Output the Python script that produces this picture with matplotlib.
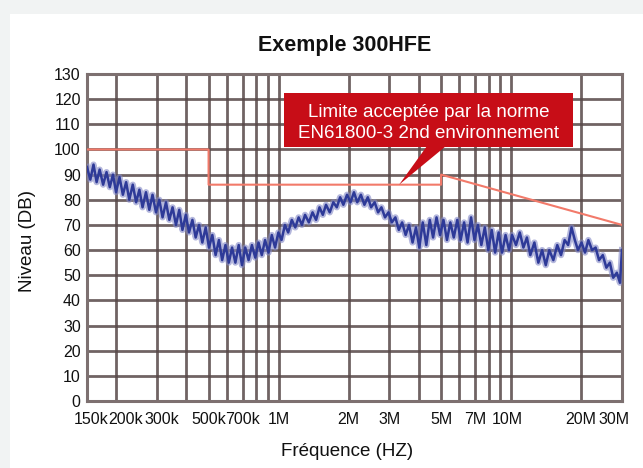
import matplotlib
matplotlib.use('Agg')
import matplotlib.pyplot as plt
import numpy as np
from matplotlib.patches import Rectangle, Polygon
from matplotlib.ticker import FixedLocator, LogLocator, NullFormatter

plt.rcParams['font.family'] = ['Liberation Sans', 'DejaVu Sans']

# ---------------- data ----------------
title = "Exemple 300HFE"
xlabel = "Fréquence (HZ)"
ylabel = "Niveau (DB)"
callout_text = "Limite acceptée par la norme\nEN61800-3 2nd environnement"

tick_freqs_hz = [150e3, 200e3, 300e3, 500e3, 700e3, 1e6, 2e6, 3e6, 5e6, 7e6, 10e6, 20e6, 30e6]
tick_labels = ["150k", "200k", "300k", "500k", "700k", "1M", "2M", "3M", "5M", "7M", "10M", "20M", "30M"]
y_ticks = [0, 10, 20, 30, 40, 50, 60, 70, 80, 90, 100, 110, 120, 130]

limit_freq_mhz = [0.15, 0.5, 0.5, 5, 5, 30]
limit_db = [100, 100, 86, 86, 90, 70]

meas_freq_khz = [
    150, 155, 160, 165, 170, 176, 182, 188, 194, 200, 207, 214, 221, 228, 236, 244, 252, 260,
    269, 278, 287, 297, 307, 317, 328, 339, 350, 362, 374, 386, 399, 412, 426, 440, 455, 470,
    486, 502, 519, 536, 554, 572, 591, 611, 631, 652, 674, 696, 719, 743, 768, 794, 820, 847,
    875, 905, 935, 966, 998,
    1030, 1065, 1100, 1140, 1180, 1220, 1260, 1300, 1350, 1400, 1450, 1500, 1550, 1600, 1660,
    1720, 1780, 1840, 1900, 1970, 2040, 2110, 2180, 2260, 2340, 2420, 2500, 2590, 2680, 2770,
    2870, 2970, 3070, 3180, 3290, 3400, 3520, 3640, 3770, 3900, 4030, 4170, 4320, 4470, 4620,
    4780, 4950, 5120, 5300, 5480, 5670, 5870, 6070, 6280, 6500, 6730, 6960, 7200, 7450, 7710,
    7980, 8260, 8540, 8840, 9150, 9470, 9800,
    10100, 10500, 10900, 11300, 11700, 12100, 12600, 13100, 13600, 14100, 14600, 15200, 15800,
    16400, 17000, 17600, 18200, 18800, 19400, 20100, 20800, 21500, 22300, 23100, 23900, 24800,
    25700, 26600, 27500, 28500, 29400, 30000,
]
meas_db = [
    93, 88, 94, 87, 92, 86, 91, 85, 90, 83, 89, 82, 87, 80, 86, 79, 84, 77,
    83, 76, 82, 75, 80, 73, 79, 72, 77, 70, 76, 68, 74, 67, 72, 65, 70, 63,
    69, 61, 66, 58, 64, 56, 62, 55, 61, 55, 62, 54, 61, 56, 62, 57, 63, 58,
    64, 59, 66, 61, 67,
    64, 70, 67, 72, 69, 73, 70, 74, 71, 75, 72, 77, 74, 78, 75,
    79, 77, 81, 78, 82, 79, 83, 79, 82, 78, 81, 77, 79, 75, 77,
    73, 75, 71, 73, 68, 71, 66, 70, 63, 69, 61, 71, 62, 72, 65,
    73, 66, 72, 64, 71, 65, 72, 64, 71, 63, 73, 64, 70, 62, 69,
    60, 68, 59, 67, 59, 66, 60,
    66, 62, 67, 61, 65, 58, 63, 55, 60, 54, 60, 56, 62,
    58, 64, 62, 69, 64, 60, 63, 59, 64, 60, 61, 56, 58,
    53, 55, 49, 51, 47, 60,
]

# ---------------- figure ----------------
W, H = 643, 468
fig = plt.figure(figsize=(W / 100, H / 100), dpi=100, facecolor='#f1f3f3')
fig.patches.append(Rectangle((10 / W, 0), 1, (H - 14) / H, transform=fig.transFigure,
                             facecolor='white', edgecolor='none', zorder=-5))

L, R, T, B = 87, 622, 74, 401
ax = fig.add_axes([L / W, 1 - B / H, (R - L) / W, (B - T) / H])
ax.set_facecolor('white')

grid_col = '#574848'
ax.set_xscale('log')
ax.set_xlim(150e3, 30e6)
ax.set_ylim(0, 130)

ax.xaxis.set_major_locator(FixedLocator(tick_freqs_hz))
ax.xaxis.set_major_formatter(NullFormatter())
ax.xaxis.set_minor_locator(LogLocator(base=10, subs=np.arange(1, 10), numticks=50))
ax.xaxis.set_minor_formatter(NullFormatter())
ax.set_yticks(y_ticks)
ax.set_yticklabels([str(v) for v in y_ticks])
ax.tick_params(which='both', length=0)
ax.tick_params(axis='y', labelsize=11.5, pad=4.5, labelcolor='#111111')
ax.grid(which='both', axis='x', color=grid_col, lw=2.0, alpha=0.85)
ax.grid(which='major', axis='y', color=grid_col, lw=2.0, alpha=0.85)
ax.set_axisbelow(True)
for s in ax.spines.values():
    s.set_color('#7d7070')
    s.set_linewidth(2.2)

# x tick labels (placed manually so that the crowded ones can be nudged)
nudges = {"150k": 4, "200k": 10, "300k": 5, "10M": -4, "30M": -8}
for f, lab in zip(tick_freqs_hz, tick_labels):
    ax.annotate(lab, xy=(f, 0), xycoords=('data', 'axes fraction'),
                xytext=(nudges.get(lab, 0), -19), textcoords='offset pixels',
                ha='center', va='center', fontsize=11.5, color='#111111',
                annotation_clip=False)

# limit line
ax.plot(np.array(limit_freq_mhz) * 1e6, limit_db, color='#f27a6a', lw=1.5, zorder=4)

# measurement trace
f_hz = np.array(meas_freq_khz) * 1e3
ax.plot(f_hz, meas_db, color='#8287c6', lw=4.5, alpha=0.6, zorder=5,
        solid_joinstyle='round')
ax.plot(f_hz, meas_db, color='#2e3a98', lw=1.8, zorder=6, solid_joinstyle='round')

# texts
fig.text(345 / W, 1 - 45 / H, title, ha='center', va='center', fontsize=15.5,
         fontweight='bold', color='#111111')
fig.text(347 / W, 1 - 452 / H, xlabel, ha='center', va='center', fontsize=13.5,
         color='#111111')
fig.text(27 / W, 1 - 241 / H, ylabel, ha='center', va='center', fontsize=13.5,
         rotation=90, color='#111111')

# callout
red = '#c70d17'
bx0, bx1, by0, by1 = 284, 573, 93, 147
fig.patches.append(Rectangle((bx0 / W, 1 - by1 / H), (bx1 - bx0) / W, (by1 - by0) / H,
                             transform=fig.transFigure, facecolor=red, edgecolor='none',
                             zorder=10))
tip = ax.transData.transform((3.3e6, 86))
tip_fig = fig.transFigure.inverted().transform(tip)
tri = Polygon([(427 / W, 1 - (by1 - 1) / H), (446 / W, 1 - (by1 - 1) / H), tuple(tip_fig)],
              closed=True, transform=fig.transFigure, facecolor=red, edgecolor='none',
              zorder=10)
fig.patches.append(tri)
fig.text((bx0 + bx1) / 2 / W, 1 - 123 / H, callout_text, ha='center', va='center',
         fontsize=13.5, color='white', linespacing=1.35, zorder=11)

fig.savefig('out.png', dpi=100, facecolor=fig.get_facecolor())
